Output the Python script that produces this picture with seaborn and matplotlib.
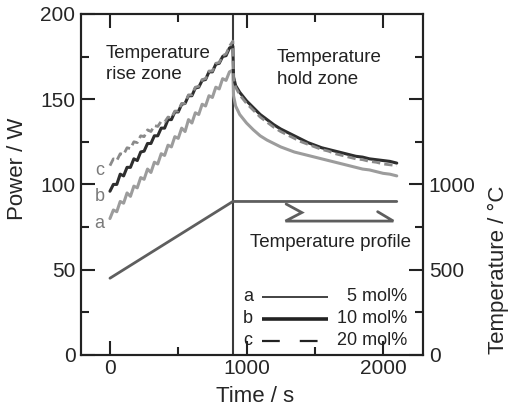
import numpy as np
import pandas as pd
import seaborn as sns
import matplotlib
matplotlib.use("Agg")
import matplotlib.pyplot as plt
from matplotlib.ticker import FixedLocator, FixedFormatter

# ---- data -------------------------------------------------------------
# time grid of the ramp (rise) period and of the hold period, s
rise_t = [0, 25, 50, 75, 100, 125, 150, 175, 200, 225, 250, 275, 300, 325,
          350, 375, 400, 425, 450, 475, 500, 525, 550, 575, 600, 625, 650,
          675, 700, 725, 750, 775, 800, 825, 850, 875, 900]
hold_t = [905, 920, 950, 1000, 1050, 1100, 1150, 1200, 1250, 1300, 1350,
          1400, 1450, 1500, 1550, 1600, 1650, 1700, 1750, 1800, 1850, 1900,
          1950, 2000, 2050, 2100]

# a: 5 mol%
power_a_rise = [80, 85, 84, 90, 89, 95, 93, 99, 98, 104, 103, 109, 107, 113,
                112, 118, 117, 123, 122, 128, 127, 133, 131, 138, 136, 142,
                141, 147, 146, 152, 151, 157, 156, 162, 161, 166, 167]
power_a_hold = [152, 146, 141, 136, 132, 128.5, 126, 124, 122, 120.5, 119,
                118, 117, 116, 115, 114, 113, 112, 111, 110, 109, 108.5,
                107.5, 106.5, 106, 105]

# b: 10 mol%
power_b_rise = [96, 100, 100, 106, 105, 110, 110, 115, 114, 119, 119.5, 124,
                124, 128.5, 128.5, 133, 133, 138, 138, 142.5, 142.5, 147,
                147.5, 152, 152, 156.5, 157, 161, 161.5, 166, 166, 170.5,
                171, 175, 175.5, 180, 181]
power_b_hold = [163, 158, 154, 149, 145, 141, 138, 135, 132.5, 130.5, 128.5,
                126.5, 124.5, 123, 121.5, 120.5, 119.5, 118.5, 117.5, 116.5,
                116, 115, 114.5, 114, 113.5, 112.5]

# c: 20 mol%
power_c_rise = [111, 115, 114, 118, 117.5, 121.5, 121, 125, 124.5, 128.5,
                128, 132, 131, 134.5, 134, 137, 136.5, 139.5, 139, 143,
                143, 147.5, 147.5, 152.5, 152.5, 157, 157.5, 161.5, 162,
                166.5, 166.5, 171, 171.5, 175.5, 176.5, 181, 184]
power_c_hold = [162, 157, 152.5, 147.5, 143.5, 139.5, 136.5, 133.5, 131,
                129, 127, 125, 123.5, 122, 120.5, 119.5, 118, 117, 116,
                115, 114.5, 113.5, 113, 112, 111.5, 111]

# heating programme, deg C
temp_t = [0, 900, 2100]
temp_c = [450, 900, 900]

zone_boundary = 900

series_labels = ["a", "b", "c"]
series_names = ["5 mol%", "10 mol%", "20 mol%"]

# ---- style ------------------------------------------------------------
sns.set_style("ticks")
plt.rcParams["font.family"] = ["Liberation Sans", "DejaVu Sans"]
plt.rcParams["axes.linewidth"] = 1.5
plt.rcParams["axes.edgecolor"] = "#222222"

fig = plt.figure(figsize=(5.16, 4.08), dpi=100)
ax = fig.add_axes([0.157, 0.130, 0.663, 0.836])
ax2 = ax.twinx()

col_a = "#9c9c9c"
col_b = "#2e2e2e"
col_c = "#8a8a8a"

def curve(t_rise, p_rise, t_hold, p_hold):
    return pd.DataFrame({"time": list(t_rise) + list(t_hold),
                         "power": list(p_rise) + list(p_hold)})

df_a = curve(rise_t, power_a_rise, hold_t, power_a_hold)
df_b = curve(rise_t, power_b_rise, hold_t, power_b_hold)
df_c = curve(rise_t, power_c_rise, hold_t, power_c_hold)

sns.lineplot(data=df_a, x="time", y="power", ax=ax, color=col_a, lw=2.2,
             estimator=None, sort=False, zorder=3)
sns.lineplot(data=df_b, x="time", y="power", ax=ax, color=col_b, lw=2.2,
             estimator=None, sort=False, zorder=4)
sns.lineplot(data=df_c, x="time", y="power", ax=ax, color=col_c, lw=2.0,
             estimator=None, sort=False, zorder=5)
ax.lines[-1].set_dashes((3, 1.5))

# boundary between the two zones
ax.axvline(zone_boundary, color="#3a3a3a", lw=1.5, zorder=2)

# temperature programme on the right axis
sns.lineplot(x=temp_t, y=temp_c, ax=ax2, color="#5e5e5e", lw=2.0,
             estimator=None, sort=False)

# bracket pointing at the temperature line
ax2.plot([1290, 1405, 1285, 2075, 1960], [885, 835, 785, 785, 840],
         color="#5e5e5e", lw=2.0, solid_joinstyle="miter")

# ---- axes -------------------------------------------------------------
ax.set_xlim(-212, 2293)
ax.set_ylim(0, 200)
ax2.set_ylim(0, 2000)

ax.xaxis.set_major_locator(FixedLocator([0, 1000, 2000]))
ax.xaxis.set_minor_locator(FixedLocator([500, 1500]))
ax.yaxis.set_major_locator(FixedLocator([0, 50, 100, 150, 200]))
ax.yaxis.set_minor_locator(FixedLocator([25, 75, 125, 175]))
ax.tick_params(which="both", direction="in", top=True, right=False,
               width=1.5, color="#222222", labelsize=15)
ax.tick_params(which="major", length=10, pad=4)
ax.tick_params(which="minor", length=5.5)
ax.tick_params(axis="x", which="major", pad=3)

ax2.yaxis.set_major_locator(FixedLocator([0, 500, 1000, 1500]))
ax2.yaxis.set_major_formatter(FixedFormatter(["0", "500", "1000", ""]))
ax2.yaxis.set_minor_locator(FixedLocator([250, 750, 1250, 1750]))
ax2.tick_params(which="both", direction="in", right=True, width=1.5,
                color="#222222", labelsize=15)
ax2.tick_params(which="major", length=10, pad=4)
ax2.tick_params(which="minor", length=5.5)

ax.set_xlabel("Time / s", fontsize=16)
ax.set_ylabel("Power / W", fontsize=16)
ax2.set_ylabel("Temperature / °C", fontsize=16)
ax.xaxis.set_label_coords(0.51, -0.092)
ax.yaxis.set_label_coords(-0.155, 0.545)
ax2.yaxis.set_label_coords(1.19, 0.25)

for spine in ax.spines.values():
    spine.set_visible(True)

# ---- annotations ------------------------------------------------------
ax.text(0.073, 0.91, "Temperature\nrise zone", transform=ax.transAxes,
        fontsize=13.5, va="top", ha="left", linespacing=1.35, color="#222222")
ax.text(0.573, 0.897, "Temperature\nhold zone", transform=ax.transAxes,
        fontsize=13.5, va="top", ha="left", linespacing=1.35, color="#222222")
ax.text(0.494, 0.331, "Temperature profile", transform=ax.transAxes,
        fontsize=13.5, va="center", ha="left", color="#222222")

# curve letters next to the start of each trace
for lbl, p0 in zip(series_labels, [power_a_rise[0], power_b_rise[0],
                                   power_c_rise[0]]):
    ax.text(-75, p0 - 3, lbl, fontsize=13, color="#7a7a7a",
            ha="center", va="center")

# key: letter, line sample, concentration
key_rows = [0.171, 0.106, 0.042]
key_styles = [dict(lw=1.2, ls="-"), dict(lw=2.6, ls="-"),
              dict(lw=1.6, ls=(0, (8, 9)))]
for lbl, name, yy, st in zip(series_labels, series_names, key_rows,
                             key_styles):
    ax.text(0.488, yy, lbl, transform=ax.transAxes, fontsize=13,
            ha="center", va="center", color="#222222")
    ax.plot([0.528, 0.722], [yy, yy], transform=ax.transAxes,
            color="#222222", solid_capstyle="butt", **st)
    ax.text(0.953, yy, name, transform=ax.transAxes, fontsize=13,
            ha="right", va="center", color="#222222")

fig.savefig("out.png", dpi=100)
